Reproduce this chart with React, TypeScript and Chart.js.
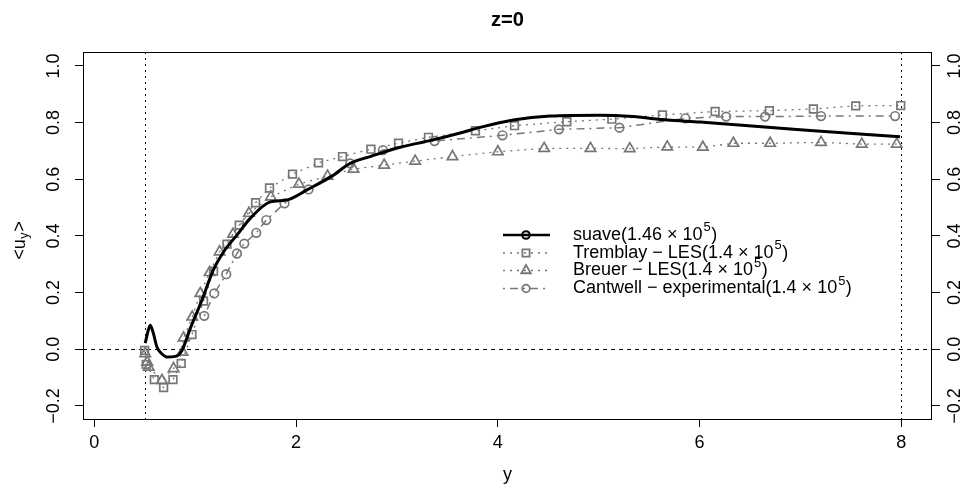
import React, { useEffect, useRef } from 'react';
import { Chart, registerables } from 'chart.js';

Chart.register(...registerables);

// ---------- data ----------
const xTicks = [0, 2, 4, 6, 8];
const yTicks = [-0.2, 0, 0.2, 0.4, 0.6, 0.8, 1.0];
const yTickLabels = ['\u22120.2', '0.0', '0.2', '0.4', '0.6', '0.8', '1.0'];

const suaveX = [0.505, 0.535, 0.555, 0.585, 0.621, 0.664, 0.72, 0.803, 0.869, 0.951, 1.067, 1.179, 1.282, 1.414, 1.546, 1.744, 1.91, 2.121, 2.356, 2.537, 2.735, 3.033, 3.36, 3.627, 3.826, 4.153, 4.519, 5.015, 5.342, 5.679, 6.006, 6.997, 7.988];
const suaveY = [0.022, 0.067, 0.085, 0.057, 0.008, -0.014, -0.027, -0.025, -0.004, 0.073, 0.173, 0.279, 0.344, 0.403, 0.462, 0.52, 0.527, 0.565, 0.611, 0.656, 0.68, 0.713, 0.739, 0.763, 0.783, 0.809, 0.823, 0.826, 0.821, 0.809, 0.802, 0.775, 0.75];

const tremblayX = [0.499, 0.515, 0.595, 0.687, 0.78, 0.862, 0.968, 1.083, 1.182, 1.315, 1.437, 1.599, 1.737, 1.965, 2.223, 2.461, 2.742, 3.016, 3.313, 3.779, 4.166, 4.685, 5.131, 5.632, 6.155, 6.693, 7.129, 7.549, 7.995];
const tremblayY = [-0.004, -0.053, -0.107, -0.135, -0.107, -0.05, 0.052, 0.17, 0.276, 0.371, 0.438, 0.517, 0.569, 0.618, 0.658, 0.68, 0.706, 0.727, 0.748, 0.771, 0.789, 0.803, 0.812, 0.827, 0.839, 0.842, 0.848, 0.859, 0.86];

const breuerX = [0.505, 0.525, 0.54, 0.671, 0.786, 0.875, 0.885, 0.971, 1.051, 1.143, 1.242, 1.375, 1.533, 1.751, 2.029, 2.312, 2.57, 2.874, 3.181, 3.551, 4.001, 4.46, 4.919, 5.309, 5.68, 6.033, 6.336, 6.7, 7.205, 7.609, 7.955];
const breuerY = [-0.015, -0.045, -0.063, -0.11, -0.068, -0.01, 0.04, 0.114, 0.197, 0.271, 0.344, 0.406, 0.48, 0.538, 0.583, 0.611, 0.636, 0.65, 0.664, 0.68, 0.697, 0.709, 0.709, 0.708, 0.714, 0.713, 0.727, 0.727, 0.73, 0.724, 0.724];

const cantwellX = [1.09, 1.189, 1.308, 1.414, 1.487, 1.606, 1.705, 1.886, 2.124, 2.537, 2.861, 3.373, 4.047, 4.606, 5.206, 5.86, 6.264, 6.65, 7.205, 7.939];
const cantwellY = [0.118, 0.197, 0.265, 0.338, 0.373, 0.411, 0.456, 0.515, 0.564, 0.656, 0.703, 0.735, 0.755, 0.776, 0.782, 0.815, 0.821, 0.821, 0.823, 0.823];

const vLines = [0.5, 8];
const hLines = [0];

const titleText = 'z=0';
const xTitle = 'y';
const yTitleMain = '<u';
const yTitleSub = 'y';
const yTitleEnd = '>';

const legendBase = [
  'suave(1.46 \u00d7 10',
  'Tremblay \u2212 LES(1.4 \u00d7 10',
  'Breuer \u2212 LES(1.4 \u00d7 10',
  'Cantwell \u2212 experimental(1.4 \u00d7 10',
];
const legendSup = '5';
const legendEnd = ')';

// ---------- styles ----------
const FONT = '"Liberation Sans", Arial, Helvetica, sans-serif';
const GRAY = '#777777';
const BASE = 18;

function pts(xs: number[], ys: number[]) {
  return xs.map((x, i) => ({ x, y: ys[i] }));
}

function drawMarker(ctx: CanvasRenderingContext2D, kind: string, x: number, y: number) {
  ctx.beginPath();
  if (kind === 'rect') {
    ctx.rect(x - 3.6, y - 3.6, 7.2, 7.2);
  } else if (kind === 'triangle') {
    const r = 5.5;
    ctx.moveTo(x, y - r);
    ctx.lineTo(x + r * 0.866, y + r * 0.5);
    ctx.lineTo(x - r * 0.866, y + r * 0.5);
    ctx.closePath();
  } else {
    ctx.arc(x, y, 3.8, 0, Math.PI * 2);
  }
  ctx.stroke();
}

const decorPlugin = {
  id: 'decor',
  beforeDatasetsDraw(chart: any) {
    const { ctx, chartArea: a, scales } = chart;
    const xs = scales.x;
    const ys = scales.y;
    ctx.save();
    ctx.strokeStyle = '#000';
    ctx.lineWidth = 1;
    ctx.setLineDash([2, 4]);
    vLines.forEach((v) => {
      const px = Math.round(xs.getPixelForValue(v)) + 0.5;
      ctx.beginPath();
      ctx.moveTo(px, a.top);
      ctx.lineTo(px, a.bottom);
      ctx.stroke();
    });
    ctx.setLineDash([4, 4]);
    hLines.forEach((v) => {
      const py = Math.round(ys.getPixelForValue(v)) + 0.5;
      ctx.beginPath();
      ctx.moveTo(a.left, py);
      ctx.lineTo(a.right, py);
      ctx.stroke();
    });
    ctx.restore();
  },
  afterDraw(chart: any) {
    const { ctx, chartArea: a } = chart;
    ctx.save();
    // box
    ctx.strokeStyle = '#000';
    ctx.lineWidth = 1;
    ctx.setLineDash([]);
    ctx.strokeRect(Math.round(a.left) + 0.5, Math.round(a.top) + 0.5, Math.round(a.right - a.left) - 1, Math.round(a.bottom - a.top));

    // title
    ctx.fillStyle = '#000';
    ctx.font = `bold ${BASE * 1.12}px ${FONT}`;
    ctx.textAlign = 'center';
    ctx.textBaseline = 'middle';
    ctx.fillText(titleText, (a.left + a.right) / 2, 20);

    // y title with subscript
    ctx.save();
    ctx.translate(20, (a.top + a.bottom) / 2 + 5);
    ctx.rotate(-Math.PI / 2);
    ctx.textAlign = 'left';
    ctx.textBaseline = 'middle';
    ctx.font = `${BASE}px ${FONT}`;
    const w1 = ctx.measureText(yTitleMain).width;
    const w3 = ctx.measureText(yTitleEnd).width;
    ctx.font = `${BASE * 0.7}px ${FONT}`;
    const w2 = ctx.measureText(yTitleSub).width;
    const tot = w1 + w2 + w3 + 1;
    let sx = -tot / 2;
    ctx.font = `${BASE}px ${FONT}`;
    ctx.fillText(yTitleMain, sx, 0);
    sx += w1 + 0.5;
    ctx.font = `${BASE * 0.7}px ${FONT}`;
    ctx.fillText(yTitleSub, sx, 4.5);
    sx += w2 + 0.5;
    ctx.font = `${BASE}px ${FONT}`;
    ctx.fillText(yTitleEnd, sx, 0);
    ctx.restore();

    // legend
    const rows = [235, 253, 270.5, 288.5];
    const x0 = 503, x1 = 550, xm = 526, xt = 573;
    const kinds = ['circle', 'rect', 'triangle', 'circle'];
    rows.forEach((ry, i) => {
      ctx.save();
      if (i === 0) {
        ctx.strokeStyle = '#000';
        ctx.lineWidth = 2.5;
        ctx.setLineDash([]);
      } else if (i === 3) {
        ctx.strokeStyle = GRAY;
        ctx.lineWidth = 1.5;
        ctx.setLineDash([2, 5, 8, 5]);
      } else {
        ctx.strokeStyle = GRAY;
        ctx.lineWidth = 1.5;
        ctx.setLineDash([2, 5]);
      }
      ctx.beginPath();
      ctx.moveTo(x0, ry);
      ctx.lineTo(x1, ry);
      ctx.stroke();
      ctx.setLineDash([]);
      ctx.lineWidth = i === 0 ? 2 : 1.8;
      drawMarker(ctx, kinds[i], xm, ry);
      ctx.restore();

      ctx.fillStyle = '#000';
      ctx.textAlign = 'left';
      ctx.textBaseline = 'middle';
      ctx.font = `${BASE}px ${FONT}`;
      ctx.fillText(legendBase[i], xt, ry);
      const wb = ctx.measureText(legendBase[i]).width;
      ctx.font = `${BASE * 0.72}px ${FONT}`;
      ctx.fillText(legendSup, xt + wb + 1, ry - BASE * 0.42);
      const ws = ctx.measureText(legendSup).width;
      ctx.font = `${BASE}px ${FONT}`;
      ctx.fillText(legendEnd, xt + wb + ws + 1.5, ry);
    });
    ctx.restore();
  },
};

function yAxisCommon(position: 'left' | 'right', width: number, padding: number) {
  return {
    type: 'linear' as const,
    position,
    min: -0.246,
    max: 1.049,
    afterBuildTicks: (s: any) => {
      s.ticks = yTicks.map((v) => ({ value: v }));
    },
    afterFit: (s: any) => {
      s.width = width;
    },
    ticks: {
      autoSkip: false,
      minRotation: 90,
      maxRotation: 90,
      crossAlign: 'center' as const,
      padding,
      color: '#000',
      font: { family: FONT, size: BASE },
      callback: (v: any) => {
        const idx = yTicks.findIndex((t) => Math.abs(t - v) < 1e-9);
        return idx >= 0 ? yTickLabels[idx] : '';
      },
    },
    grid: { display: true, drawOnChartArea: false, drawTicks: true, tickLength: 8, color: '#000', lineWidth: 1 },
    border: { display: false },
  };
}

export default function App() {
  const ref = useRef<HTMLCanvasElement | null>(null);

  useEffect(() => {
    if (!ref.current) return;
    const chart = new Chart(ref.current, {
      type: 'line',
      data: {
        datasets: [
          {
            label: 'suave',
            data: pts(suaveX, suaveY),
            borderColor: '#000',
            borderWidth: 3,
            pointRadius: 0,
            cubicInterpolationMode: 'monotone',
            fill: false,
          },
          {
            label: 'Tremblay',
            data: pts(tremblayX, tremblayY),
            borderColor: GRAY,
            borderWidth: 1.3,
            borderDash: [2, 5],
            pointStyle: 'rect',
            pointRadius: 5.4,
            pointBorderColor: GRAY,
            pointBackgroundColor: 'rgba(0,0,0,0)',
            pointBorderWidth: 1.7,
            tension: 0,
            fill: false,
          },
          {
            label: 'Breuer',
            data: pts(breuerX, breuerY),
            borderColor: GRAY,
            borderWidth: 1.3,
            borderDash: [2, 5],
            pointStyle: 'triangle',
            pointRadius: 6,
            pointBorderColor: GRAY,
            pointBackgroundColor: 'rgba(0,0,0,0)',
            pointBorderWidth: 1.7,
            tension: 0,
            fill: false,
          },
          {
            label: 'Cantwell',
            data: pts(cantwellX, cantwellY),
            borderColor: GRAY,
            borderWidth: 1.5,
            borderDash: [2, 5, 8, 5],
            pointStyle: 'circle',
            pointRadius: 4.3,
            pointBorderColor: GRAY,
            pointBackgroundColor: 'rgba(0,0,0,0)',
            pointBorderWidth: 1.7,
            tension: 0,
            fill: false,
          },
        ],
      },
      options: {
        animation: false,
        responsive: false,
        devicePixelRatio: 1,
        layout: { padding: { top: 52, left: 0, right: 0, bottom: 0 } },
        plugins: {
          legend: { display: false },
          tooltip: { enabled: false },
          title: { display: false },
        },
        scales: {
          x: {
            type: 'linear',
            position: 'bottom',
            min: -0.112,
            max: 8.305,
            afterBuildTicks: (s: any) => {
              s.ticks = xTicks.map((v) => ({ value: v }));
            },
            afterFit: (s: any) => {
              s.height = 69;
            },
            ticks: {
              autoSkip: false,
              maxRotation: 0,
              padding: 5,
              color: '#000',
              font: { family: FONT, size: BASE },
              callback: (v: any) => String(v),
            },
            grid: { display: true, drawOnChartArea: false, drawTicks: true, tickLength: 8, color: '#000', lineWidth: 1 },
            border: { display: false },
            title: {
              display: true,
              text: xTitle,
              color: '#000',
              font: { family: FONT, size: BASE },
              padding: { top: 0, bottom: 2.5 },
            },
          },
          y: yAxisCommon('left', 83, 3.2),
          y2: yAxisCommon('right', 31, -2.5),
        },
      } as any,
      plugins: [decorPlugin],
    });
    return () => chart.destroy();
  }, []);

  return (
    <div style={{ position: 'absolute', left: 0, top: 0, width: 963, height: 488, background: '#fff' }}>
      <canvas ref={ref} width={963} height={488} style={{ display: 'block', width: 963, height: 488 }} />
    </div>
  );
}
